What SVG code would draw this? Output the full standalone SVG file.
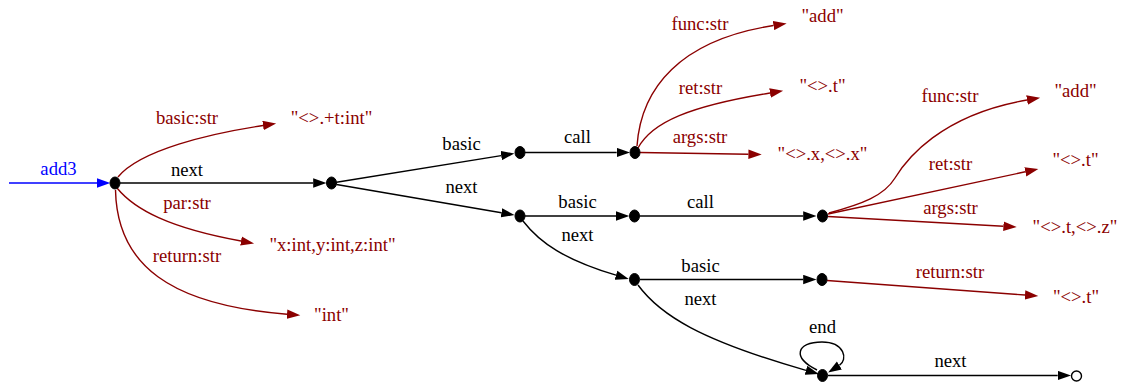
<svg xmlns="http://www.w3.org/2000/svg" width="1122" height="385" viewBox="0 0 1122 385">
  <style>
    text { font-family: "Liberation Serif", "Times New Roman", serif; font-size: 18.67px; text-anchor: middle; }
    .k { fill: #000000; }
    .dr { fill: #8b0000; }
    .bl { fill: #0000ff; }
    .ek { fill: none; stroke: #000000; stroke-width: 1.4; marker-end: url(#ah-k); }
    .er { fill: none; stroke: #8b0000; stroke-width: 1.4; marker-end: url(#ah-r); }
    .eb { fill: none; stroke: #0000ff; stroke-width: 1.4; marker-end: url(#ah-b); }
    .pt { fill: #000000; stroke: #000000; stroke-width: 1; }
    .open { fill: #ffffff; stroke: #000000; stroke-width: 1.4; }
  </style>
  <defs>
    <marker id="ah-k" viewBox="0 -5 14 10" refX="0" refY="0" markerWidth="14" markerHeight="10" markerUnits="userSpaceOnUse" orient="auto">
      <path d="M0,-4.7 L13.3,0 L0,4.7 Z" fill="#000000"/>
    </marker>
    <marker id="ah-r" viewBox="0 -5 14 10" refX="0" refY="0" markerWidth="14" markerHeight="10" markerUnits="userSpaceOnUse" orient="auto">
      <path d="M0,-4.7 L13.3,0 L0,4.7 Z" fill="#8b0000"/>
    </marker>
    <marker id="ah-b" viewBox="0 -5 14 10" refX="0" refY="0" markerWidth="14" markerHeight="10" markerUnits="userSpaceOnUse" orient="auto">
      <path d="M0,-4.7 L13.3,0 L0,4.7 Z" fill="#0000ff"/>
    </marker>
  </defs>

  <!-- connectors -->
  <g id="edges">
    <!-- entry -->
    <path class="eb" d="M9,183 L97,183"/>
    <text class="bl" x="58.5" y="175">add3</text>

    <!-- add3 block -->
    <path class="er" d="M118,177 C140,150 210,133.5 263,125.5"/>
    <text class="dr" x="187" y="124">basic:str</text>
    <path class="ek" d="M120,183 L313.2,183"/>
    <text class="k" x="187" y="175.5">next</text>
    <path class="er" d="M117,188 C135,210 170,228 241,241"/>
    <text class="dr" x="187" y="208.5">par:str</text>
    <path class="er" d="M115.5,190 C117,265 170,305 287,314.2"/>
    <text class="dr" x="187" y="262">return:str</text>

    <!-- sequence -->
    <path class="ek" d="M336.5,182.3 L501.2,155.6"/>
    <text class="k" x="461.5" y="150">basic</text>
    <path class="ek" d="M336.5,184.5 L501.4,212.8"/>
    <text class="k" x="461.5" y="193">next</text>

    <path class="ek" d="M525,152.5 L616.7,152.5"/>
    <text class="k" x="577.5" y="142.5">call</text>

    <!-- first call -->
    <path class="er" d="M637,146 C641,88 680,40 773.5,25.5"/>
    <text class="dr" x="700" y="30">func:str</text>
    <path class="er" d="M638,148 C652,122 690,106 770,93"/>
    <text class="dr" x="700.5" y="94">ret:str</text>
    <path class="er" d="M640,152.5 L748.4,154.3"/>
    <text class="dr" x="700" y="143">args:str</text>

    <path class="ek" d="M525,216 L616,216"/>
    <text class="k" x="577.5" y="208">basic</text>
    <path class="ek" d="M523,221 C540,243 565,260 616,275.2"/>
    <text class="k" x="577.5" y="241">next</text>

    <path class="ek" d="M640,216 L803.2,216"/>
    <text class="k" x="700.5" y="208">call</text>

    <!-- second call -->
    <path class="er" d="M829,213 C862,204 884,196 895,178 S940,115 1027,100"/>
    <text class="dr" x="950" y="101.5">func:str</text>
    <path class="er" d="M828,214 L1025.3,171.8"/>
    <text class="dr" x="950.5" y="170">ret:str</text>
    <path class="er" d="M828,216.5 Q915,221 1003.4,226.2"/>
    <text class="dr" x="950.5" y="214">args:str</text>

    <!-- return -->
    <path class="ek" d="M640,279.5 L803.2,279.5"/>
    <text class="k" x="700.5" y="272">basic</text>
    <path class="er" d="M827,280.5 L1025,295"/>
    <text class="dr" x="950" y="278">return:str</text>
    <path class="ek" d="M638,285 C660,315 700,340 806,370.3"/>
    <text class="k" x="700.5" y="305">next</text>

    <!-- end -->
    <path class="ek" d="M817,370 C792,358 796,342 822,342 C845,342 848,360 839.4,365.4"/>
    <text class="k" x="822.5" y="332.5">end</text>
    <path class="ek" d="M828,375.5 L1057.7,375.5"/>
    <text class="k" x="950.5" y="367">next</text>
  </g>

  <!-- nodes -->
  <g id="n0"><ellipse class="pt" cx="115" cy="183" rx="5" ry="6"/></g>
  <g id="n0-basic"><text class="dr" x="331.5" y="124">"&lt;&gt;.+t:int"</text></g>
  <g id="n0-par"><text class="dr" x="332.5" y="250.5">"x:int,y:int,z:int"</text></g>
  <g id="n0-return"><text class="dr" x="331.5" y="321">"int"</text></g>
  <g id="n1"><ellipse class="pt" cx="331.5" cy="183" rx="5" ry="6"/></g>
  <g id="n2"><ellipse class="pt" cx="520" cy="152.5" rx="5" ry="6"/></g>
  <g id="n3"><ellipse class="pt" cx="635" cy="152.5" rx="5" ry="6"/></g>
  <g id="n3-func"><text class="dr" x="822.5" y="21.5">"add"</text></g>
  <g id="n3-ret"><text class="dr" x="822.5" y="91.5">"&lt;&gt;.t"</text></g>
  <g id="n3-args"><text class="dr" x="822.5" y="160">"&lt;&gt;.x,&lt;&gt;.x"</text></g>
  <g id="n4"><ellipse class="pt" cx="520" cy="216" rx="5" ry="6"/></g>
  <g id="n5"><ellipse class="pt" cx="634.5" cy="216" rx="5" ry="6"/></g>
  <g id="n6"><ellipse class="pt" cx="822.5" cy="216" rx="5" ry="6"/></g>
  <g id="n6-func"><text class="dr" x="1075.5" y="96.5">"add"</text></g>
  <g id="n6-ret"><text class="dr" x="1075.5" y="165.5">"&lt;&gt;.t"</text></g>
  <g id="n6-args"><text class="dr" x="1075" y="233">"&lt;&gt;.t,&lt;&gt;.z"</text></g>
  <g id="n7"><ellipse class="pt" cx="634.5" cy="279.5" rx="5" ry="6"/></g>
  <g id="n8"><ellipse class="pt" cx="822" cy="279.5" rx="5" ry="6"/></g>
  <g id="n8-return"><text class="dr" x="1076" y="302.5">"&lt;&gt;.t"</text></g>
  <g id="n9"><ellipse class="pt" cx="822.5" cy="375.5" rx="5" ry="6"/></g>
  <g id="n10"><ellipse class="open" cx="1076.5" cy="376" rx="5" ry="5"/></g>
</svg>
